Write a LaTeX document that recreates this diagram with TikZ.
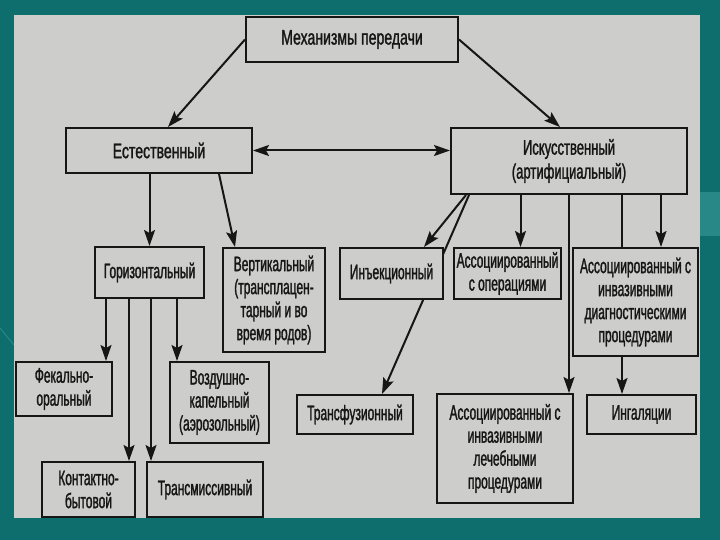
\documentclass[tikz,border=0pt]{standalone}
\usepackage{fontspec}
\setmainfont{Liberation Sans}[FakeStretch=0.57, FakeBold=1.3]
\newfontfamily\widefont{Liberation Sans}[FakeStretch=0.67, FakeBold=1.3]
\newfontfamily\midfont{Liberation Sans}[FakeStretch=0.62, FakeBold=1.3]
\usetikzlibrary{arrows.meta,calc}
\definecolor{tealbg}{RGB}{14,110,110}
\definecolor{teallight}{RGB}{40,135,135}
\definecolor{panel}{RGB}{205,205,203}
\definecolor{ink}{RGB}{22,22,22}
\pgfdeclarelayer{back}
\pgfdeclarelayer{bg}
\pgfsetlayers{back,bg,main}
\tikzset{
  box/.style={draw=ink, line width=2pt, fill=panel, align=center, inner sep=0pt,
    text=ink, font=\fontsize{21}{23}\selectfont},
  widebox/.style={box, font=\widefont\fontsize{21}{23}\selectfont},
  midbox/.style={box, font=\midfont\fontsize{21}{24}\selectfont},
  conn/.style={draw=ink, line width=2pt},
  arr/.style={conn, -{Stealth[length=16pt,width=11pt,inset=3pt]}},
  darr/.style={conn, {Stealth[length=16pt,width=11pt,inset=3pt]}-{Stealth[length=16pt,width=11pt,inset=3pt]}}
}
\begin{document}
\begin{tikzpicture}[x=1pt,y=-1pt]
\useasboundingbox (0,0) rectangle (720,540);
\begin{pgfonlayer}{back}
\fill[tealbg] (0,0) rectangle (720,540);
\fill[teallight] (700,192) rectangle (720,236);
\draw[teallight, line width=1pt] (0,328) -- (14,345);
\fill[panel] (14,15) rectangle (700,518);
\end{pgfonlayer}

\node[widebox, minimum width=212pt, minimum height=45pt] (mech) at (352,39.5) {Механизмы передачи};
\node[widebox, minimum width=186pt, minimum height=45pt] (est) at (159,150.5) {Естественный};
\node[midbox, minimum width=236pt, minimum height=66pt] (isk) at (569,161) {Искусственный\\(артифициальный)};
\node[box, minimum width=109pt, minimum height=51pt] (hor) at (149.5,272.5) {Горизонтальный};
\node[box, minimum width=102pt, minimum height=104pt] (vert) at (274,300) {Вертикальный\\(трансплацен-\\тарный и во\\время родов)};
\node[box, minimum width=103pt, minimum height=51pt] (inj) at (391.5,273.5) {Инъекционный};
\node[box, minimum width=107pt, minimum height=51pt] (oper) at (507.5,273.5) {Ассоциированный\\с операциями};
\node[box, minimum width=125pt, minimum height=108pt] (diag) at (635.5,302) {Ассоциированный с\\инвазивными\\диагностическими\\процедурами};
\node[box, minimum width=116pt, minimum height=39pt] (trans) at (355,414.5) {Трансфузионный};
\node[box, minimum width=136pt, minimum height=109pt] (lech) at (505,448.5) {Ассоциированный с\\инвазивными\\лечебными\\процедурами};
\node[box, minimum width=109pt, minimum height=39pt] (ing) at (641.5,414.5) {Ингаляции};
\node[box, minimum width=96pt, minimum height=54pt] (fek) at (64,389) {Фекально-\\оральный};
\node[box, minimum width=99pt, minimum height=81pt] (vozd) at (219.5,402.5) {Воздушно-\\капельный\\(аэрозольный)};
\node[box, minimum width=93pt, minimum height=55pt] (kont) at (88.5,489.5) {Контактно-\\бытовой};
\node[box, minimum width=116pt, minimum height=55pt] (transm) at (205,489.5) {Трансмиссивный};

% top level
\draw[arr] (mech.west) -- ($(est.north)+(9,0)$);
\draw[arr] (mech.east) -- ($(isk.north)+(-9,0)$);
\draw[darr] (est.east) -- (est.east -| isk.west);

% natural
\draw[arr] (hor.north |- est.south) -- (hor.north);
\draw[arr] ($(est.south east)+(-34,0)$) -- ($(vert.north west)+(13,0)$);

% horizontal
\coordinate (h1) at ($(hor.south west)+(12,0)$);
\coordinate (h2) at ($(hor.south west)+(35,0)$);
\coordinate (h3) at ($(hor.south west)+(57,0)$);
\coordinate (h4) at ($(hor.south west)+(83,0)$);
\draw[arr] (h1) -- (h1 |- fek.north);
\draw[arr] (h2) -- (h2 |- kont.north);
\draw[arr] (h3) -- (h3 |- transm.north);
\draw[arr] (h4) -- (h4 |- vozd.north);

% artificial
\begin{pgfonlayer}{bg}
\draw[arr] ($(isk.south west)+(19,0)$) -- ($(trans.north)+(27,0)$);
\end{pgfonlayer}
\draw[arr] ($(isk.south west)+(16,0)$) -- ($(inj.north east)+(-20,0)$);
\coordinate (a1) at ($(oper.north)+(13,0)$);
\draw[arr] (a1 |- isk.south) -- (a1);
\coordinate (a2) at ($(lech.north east)+(-5,0)$);
\draw[arr] (a2 |- isk.south) -- (a2);
\coordinate (a3) at ($(diag.north west)+(50,0)$);
\draw[conn] (a3 |- isk.south) -- (a3);
\coordinate (a4) at ($(diag.north west)+(89,0)$);
\draw[arr] (a4 |- isk.south) -- (a4);
\coordinate (a5) at ($(ing.north west)+(36,0)$);
\draw[arr] (a5 |- diag.south) -- (a5);
\end{tikzpicture}
\end{document}
